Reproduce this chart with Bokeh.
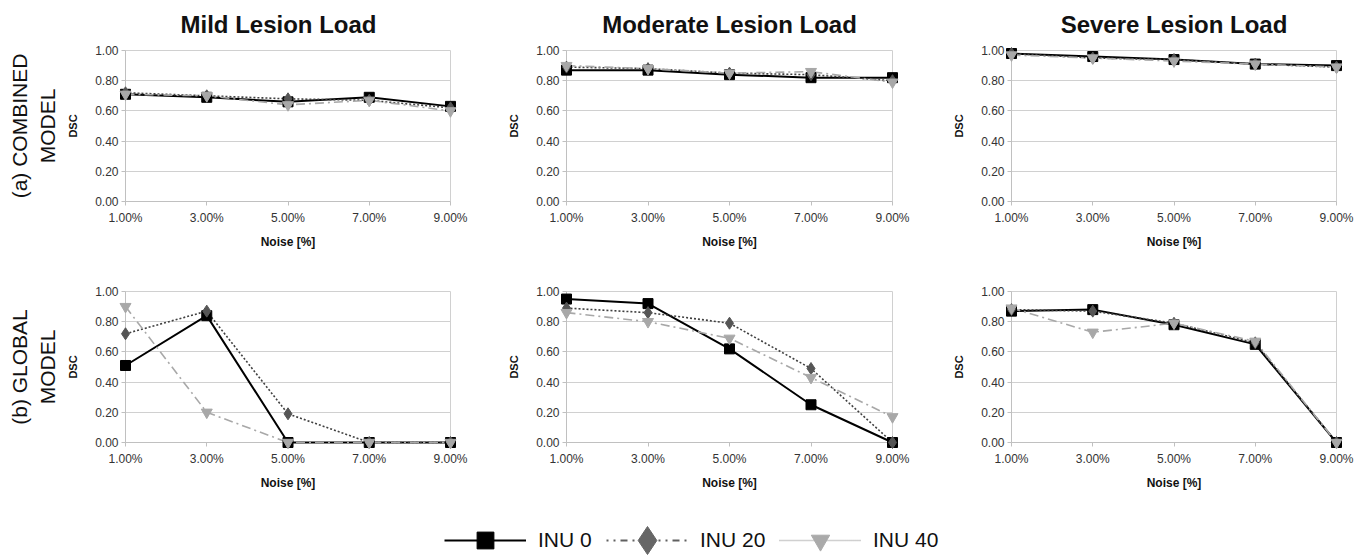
from bokeh.plotting import figure
from bokeh.layouts import column, row
from bokeh.models import Range1d, FixedTicker, Title, Legend, LegendItem, PrintfTickFormatter
from bokeh.embed import file_html
from bokeh.resources import INLINE

FONT = "Liberation Sans"

noise = [1, 3, 5, 7, 9]
noise_labels = ["1.00%", "3.00%", "5.00%", "7.00%", "9.00%"]
dsc_ticks = [0.0, 0.2, 0.4, 0.6, 0.8, 1.0]
load_titles = ["Mild Lesion Load", "Moderate Lesion Load", "Severe Lesion Load"]
model_labels = [["(a) COMBINED", "MODEL"], ["(b) GLOBAL", "MODEL"]]
series_names = ["INU 0", "INU 20", "INU 40"]

combined_mild_inu0 = [0.71, 0.69, 0.66, 0.69, 0.63]
combined_mild_inu20 = [0.72, 0.70, 0.68, 0.67, 0.62]
combined_mild_inu40 = [0.71, 0.70, 0.64, 0.67, 0.60]
combined_moderate_inu0 = [0.87, 0.87, 0.84, 0.82, 0.82]
combined_moderate_inu20 = [0.89, 0.88, 0.85, 0.84, 0.80]
combined_moderate_inu40 = [0.90, 0.88, 0.85, 0.86, 0.79]
combined_severe_inu0 = [0.98, 0.96, 0.94, 0.91, 0.90]
combined_severe_inu20 = [0.98, 0.95, 0.94, 0.91, 0.89]
combined_severe_inu40 = [0.97, 0.95, 0.93, 0.91, 0.89]
global_mild_inu0 = [0.51, 0.84, 0.00, 0.00, 0.00]
global_mild_inu20 = [0.72, 0.87, 0.19, 0.00, 0.00]
global_mild_inu40 = [0.90, 0.20, 0.00, 0.00, 0.00]
global_moderate_inu0 = [0.95, 0.92, 0.62, 0.25, 0.00]
global_moderate_inu20 = [0.89, 0.86, 0.79, 0.49, 0.00]
global_moderate_inu40 = [0.86, 0.80, 0.69, 0.43, 0.17]
global_severe_inu0 = [0.87, 0.88, 0.78, 0.65, 0.00]
global_severe_inu20 = [0.88, 0.87, 0.79, 0.66, 0.00]
global_severe_inu40 = [0.89, 0.73, 0.79, 0.67, 0.00]

panels = [
    [
        [combined_mild_inu0, combined_mild_inu20, combined_mild_inu40],
        [combined_moderate_inu0, combined_moderate_inu20, combined_moderate_inu40],
        [combined_severe_inu0, combined_severe_inu20, combined_severe_inu40],
    ],
    [
        [global_mild_inu0, global_mild_inu20, global_mild_inu40],
        [global_moderate_inu0, global_moderate_inu20, global_moderate_inu40],
        [global_severe_inu0, global_severe_inu20, global_severe_inu40],
    ],
]

col_widths = [470, 440, 458]
col_left = [125, 96, 101]
col_right = [20, 18, 32]
row_heights = [262, 243]
row_top = [50, 29]
row_bottom = [61, 63]
title_align = ["left", "center", "center"]
title_offsets = [55, 0, 0]

plot_styles = [
    dict(color="#000000", width=2.0, dash="solid", marker="square", fill="#000000", size=10),
    dict(color="#404040", width=1.6, dash="2 2", marker="diamond", fill="#555555", size=12),
    dict(color="#a8a8a8", width=1.6, dash="9 4 2 4", marker="inverted_triangle", fill="#a8a8a8", size=11),
]
legend_styles = [
    dict(color="#000000", width=2.0, dash="solid", marker="square", fill="#000000", gh=42, x=444),
    dict(color="#606060", width=2.0, dash="2 5 2 5 7 5", marker="diamond", fill="#666666", gh=70, x=606),
    dict(color="#a0a0a0", width=1.5, dash="1 1", marker="inverted_triangle", fill="#aaaaaa", gh=46, x=779),
]
LEGEND_CY = 17  # distance of legend centre above the bottom of the legend strip

GRID = "#d0d0d0"


def make_panel(r, c):
    p = figure(width=col_widths[c], height=row_heights[r],
               x_range=Range1d(1, 9), y_range=Range1d(0, 1),
               output_backend="svg", toolbar_location=None,
               title=(load_titles[c] if r == 0 else None),
               min_border_left=col_left[c], min_border_right=col_right[c],
               min_border_top=row_top[r], min_border_bottom=row_bottom[r])
    if r == 0:
        p.title.align = title_align[c]
        p.title.offset = title_offsets[c]
        p.title.vertical_align = "top"
        p.title.text_font = FONT
        p.title.text_font_size = "24px"
        p.title.text_font_style = "bold"
        p.title.text_color = "#111111"
        p.title.standoff = 21
    if c == 0:
        for txt, so in ((model_labels[r][1], 11), (model_labels[r][0], -4)):
            p.add_layout(Title(text=txt, align="center", text_font=FONT,
                               text_font_size="21px", text_font_style="normal",
                               text_color="#111111", standoff=so), "left")
    p.xgrid.visible = False
    p.ygrid.ticker = FixedTicker(ticks=dsc_ticks)
    p.ygrid.grid_line_color = GRID
    p.outline_line_color = GRID
    p.xaxis.ticker = FixedTicker(ticks=noise)
    p.xaxis.major_label_overrides = {n: lab for n, lab in zip(noise, noise_labels)}
    p.yaxis.ticker = FixedTicker(ticks=dsc_ticks)
    p.yaxis.formatter = PrintfTickFormatter(format="%.2f")
    for ax in (p.xaxis[0], p.yaxis[0]):
        ax.axis_line_color = "#c0c0c0"
        ax.major_tick_line_color = "#c0c0c0"
        ax.major_tick_in = 0
        ax.major_tick_out = 4
        ax.minor_tick_line_color = None
        ax.major_label_text_font = FONT
        ax.major_label_text_font_size = "12px"
        ax.major_label_text_color = "#333333"
        ax.axis_label_text_font = FONT
        ax.axis_label_text_font_style = "bold"
        ax.axis_label_text_color = "#111111"
    p.xaxis.axis_label = "Noise [%]"
    p.xaxis.axis_label_text_font_size = "12px"
    p.xaxis.major_label_standoff = 5
    p.xaxis.axis_label_standoff = 7
    p.yaxis.axis_label = "DSC"
    p.yaxis.axis_label_text_font_size = "11px"
    p.yaxis.major_label_standoff = 3
    p.yaxis.axis_label_standoff = 13

    series = panels[r][c]
    for vals, st in zip(series, plot_styles):
        p.line(noise, vals, line_color=st["color"], line_width=st["width"],
               line_dash=st["dash"], level="overlay")
    for vals, st in zip(series, plot_styles):
        p.scatter(noise, vals, marker=st["marker"], size=st["size"],
                  fill_color=st["fill"], line_color=st["fill"], level="overlay")
    return p


rows = []
for r in range(2):
    rows.append(row(*[make_panel(r, c) for c in range(3)]))

lf = figure(width=1368, height=52, output_backend="svg", toolbar_location=None,
            x_range=Range1d(0, 1), y_range=Range1d(0, 1),
            x_axis_type=None, y_axis_type=None, title=None, min_border=0)
lf.grid.visible = False
lf.outline_line_color = None
nan = float("nan")
for name, st in zip(series_names, legend_styles):
    lr = lf.line(x=[nan], y=[nan], line_color=st["color"], line_width=st["width"], line_dash=st["dash"])
    sr = lf.scatter(x=[nan], y=[nan], marker=st["marker"], fill_color=st["fill"], line_color=st["fill"])
    lg = Legend(items=[LegendItem(label=name, renderers=[lr, sr])],
                location=(st["x"], LEGEND_CY - st["gh"] // 2),
                padding=0, margin=0, label_standoff=12,
                glyph_width=82, glyph_height=st["gh"],
                label_text_font=FONT, label_text_font_size="21px", label_text_color="#111111",
                border_line_color=None, background_fill_alpha=0)
    lf.add_layout(lg, "center")

layout = column(rows[0], rows[1], lf)
open("out.html", "w").write(file_html(layout, INLINE))
